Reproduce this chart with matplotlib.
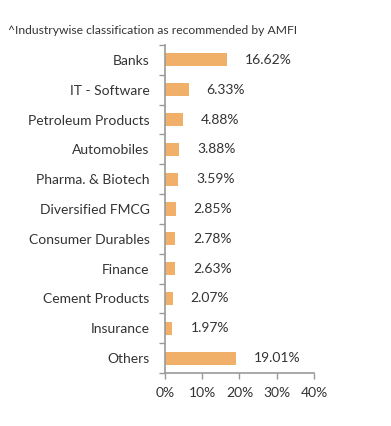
import matplotlib as mpl
mpl.use('agg')
import matplotlib.pyplot as plt
import numpy as np

# Data
sectors = ["Banks", "IT - Software", "Petroleum Products", "Automobiles",
           "Pharma. & Biotech", "Diversified FMCG", "Consumer Durables",
           "Finance", "Cement Products", "Insurance", "Others"]
weights = [16.62, 6.33, 4.88, 3.88, 3.59, 2.85, 2.78, 2.63, 2.07, 1.97, 19.01]
xticks = [0, 10, 20, 30, 40]

plt.rcParams['font.family'] = ['Lato', 'DejaVu Sans']

fig = plt.figure(figsize=(3.91, 4.26), dpi=100)
ax = fig.add_axes([0.422, 0.1244, 0.381, 0.770])

y = np.arange(len(sectors))
ax.barh(y, weights, height=0.44, color='#F0B06A')

for yi, w in zip(y, weights):
    ax.annotate(f"{w:.2f}%", (w, yi), xytext=(13, 0), textcoords='offset points',
                va='center', ha='left', fontsize=10, color='#333333')

ax.set_ylim(len(sectors) - 0.5, -0.5)
ax.set_xlim(0, 40)
ax.set_yticks(y)
ax.set_yticklabels(sectors, fontsize=10, color='#333333')
ax.set_yticks(np.arange(-0.5, len(sectors)), minor=True)
ax.tick_params(axis='y', which='major', length=0, pad=11)
ax.tick_params(axis='y', which='minor', length=4, color='#999999', width=1)
ax.set_xticks(xticks)
ax.set_xticklabels([f"{t}%" for t in xticks], fontsize=10, color='#333333')
ax.tick_params(axis='x', length=4, color='#999999', width=1, pad=6)

for s in ['top', 'right']:
    ax.spines[s].set_visible(False)
for s in ['left', 'bottom']:
    ax.spines[s].set_color('#999999')
    ax.spines[s].set_linewidth(1.2)

fig.text(8 / 391, 1 - 30 / 426, "^Industrywise classification as recommended by AMFI",
         fontsize=8.7, color='#333333', va='center', ha='left')

fig.savefig('out.png', dpi=100)
